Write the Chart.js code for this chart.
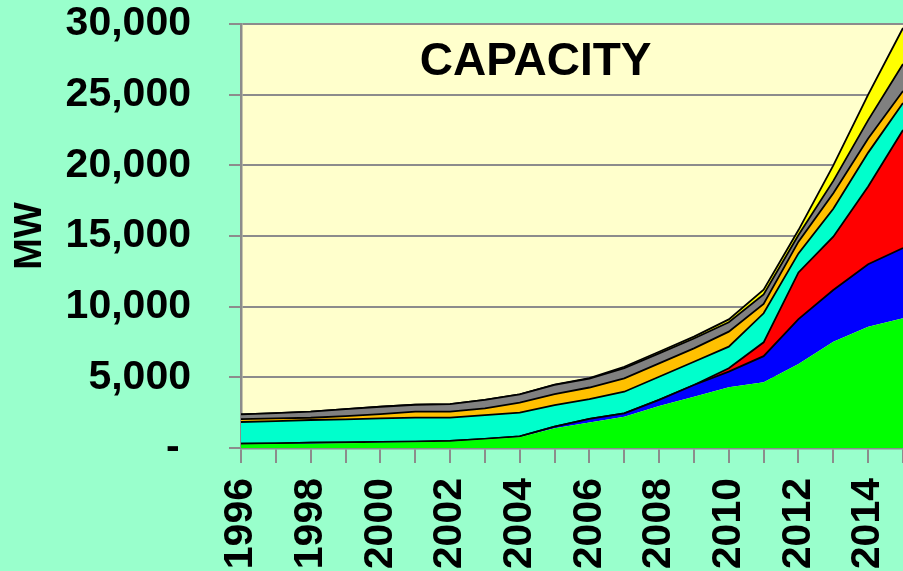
<!DOCTYPE html>
<html>
<head>
<meta charset="utf-8">
<title>Capacity</title>
<script src="https://cdn.jsdelivr.net/npm/chart.js@4.4.1/dist/chart.umd.min.js"></script>
<style>
    html, body { margin: 0; padding: 0; background: #99FFCC; overflow: hidden; }
    canvas { display: block; }
</style>
</head>
<body>
<canvas id="capChart" width="903" height="571"></canvas>
<script>
const years = ["1996", "1997", "1998", "1999", "2000", "2001", "2002", "2003", "2004", "2005",
               "2006", "2007", "2008", "2009", "2010", "2011", "2012", "2013", "2014", "2015"];

// MW per segment, stacked bottom to top
const green  = [250, 280, 300, 330, 380, 400, 450, 600, 760, 1390, 1800, 2210, 2970, 3630, 4290, 4650, 5950, 7520, 8580, 9180];
const blue   = [50, 50, 80, 70, 50, 50, 45, 40, 60, 120, 260, 240, 430, 830, 1110, 1850, 3170, 3660, 4420, 4970];
const red    = [0, 0, 0, 0, 0, 0, 0, 0, 0, 0, 0, 0, 0, 0, 240, 980, 3300, 3770, 5500, 8350];
const cyan   = [1540, 1570, 1600, 1620, 1670, 1700, 1655, 1690, 1680, 1530, 1400, 1530, 1640, 1640, 1530, 2050, 1350, 1980, 2400, 1910];
const orange = [210, 200, 160, 230, 300, 420, 420, 480, 710, 780, 820, 950, 950, 950, 1060, 660, 830, 1100, 1000, 850];
const grey   = [330, 370, 430, 500, 520, 490, 540, 590, 590, 640, 620, 720, 710, 700, 670, 680, 470, 870, 1300, 1910];
const yellow = [0, 0, 0, 0, 0, 0, 0, 0, 0, 20, 50, 100, 110, 130, 200, 330, 350, 1100, 1800, 2550];

const yTicks = [0, 5000, 10000, 15000, 20000, 25000, 30000];

const FONT = "'Liberation Sans', Arial, sans-serif";

function layer(data, color, first) {
    return {
        data: data,
        backgroundColor: color,
        borderColor: "#000000",
        borderWidth: first ? 0 : 1.8,
        fill: first ? "origin" : "-1",
        pointRadius: 0,
        tension: 0
    };
}

// plot area background + title inside it
const plotDecor = {
    id: "plotDecor",
    beforeDraw(chart) {
        const {ctx, chartArea: a} = chart;
        ctx.save();
        ctx.fillStyle = "#FFFFCC";
        ctx.fillRect(a.left, a.top, a.right - a.left, a.bottom - a.top);
        ctx.restore();
    },
    afterDatasetsDraw(chart) {
        const {ctx, chartArea: a} = chart;
        ctx.save();
        ctx.font = "bold 46px " + FONT;
        ctx.fillStyle = "#000000";
        ctx.textAlign = "center";
        ctx.textBaseline = "middle";
        ctx.fillText("CAPACITY", a.left + (a.right - a.left) * 0.445, a.top + 38);
        ctx.restore();
    }
};

new Chart(document.getElementById("capChart"), {
    type: "line",
    data: {
        labels: years,
        datasets: [
            layer(green, "#00FF00", true),
            layer(blue, "#0000FF"),
            layer(red, "#FF0000"),
            layer(cyan, "#00FFCC"),
            layer(orange, "#FFC000"),
            layer(grey, "#808080"),
            layer(yellow, "#FFFF00")
        ]
    },
    options: {
        responsive: false,
        animation: false,
        devicePixelRatio: 1,
        layout: {padding: {top: 24, right: 0, bottom: 0, left: 0}},
        plugins: {
            legend: {display: false},
            tooltip: {enabled: false}
        },
        scales: {
            x: {
                offset: false,
                grid: {drawOnChartArea: false, color: "#8C8C8C", lineWidth: 2, tickLength: 15},
                border: {color: "#8C8C8C", width: 2.5},
                ticks: {
                    autoSkip: false,
                    minRotation: 90,
                    maxRotation: 90,
                    padding: 15,
                    color: "#000000",
                    font: {family: FONT, size: 41, weight: "bold"},
                    callback: (v, i) => i % 2 === 0 ? years[i] : ""
                },
                afterFit: s => { s.height = 123; s.paddingLeft = 0; s.paddingRight = 0; }
            },
            y: {
                stacked: true,
                min: 0,
                max: 30000,
                afterBuildTicks: s => { s.ticks = yTicks.map(v => ({value: v})); },
                grid: {color: "#8C8C8C", lineWidth: 2, tickLength: 12},
                border: {color: "#8C8C8C", width: 2.5},
                ticks: {
                    padding: 38,
                    color: "#000000",
                    font: {family: FONT, size: 41, weight: "bold"},
                    callback: v => v === 0 ? "- " : v.toLocaleString("en-US")
                },
                title: {
                    display: true,
                    text: "MW",
                    color: "#000000",
                    padding: {top: 8, bottom: 0},
                    font: {family: FONT, size: 38, weight: "bold"}
                },
                afterFit: s => { s.width = 241; s.paddingTop = 0; s.paddingBottom = 0; }
            }
        }
    },
    plugins: [plotDecor]
});
</script>
</body>
</html>
